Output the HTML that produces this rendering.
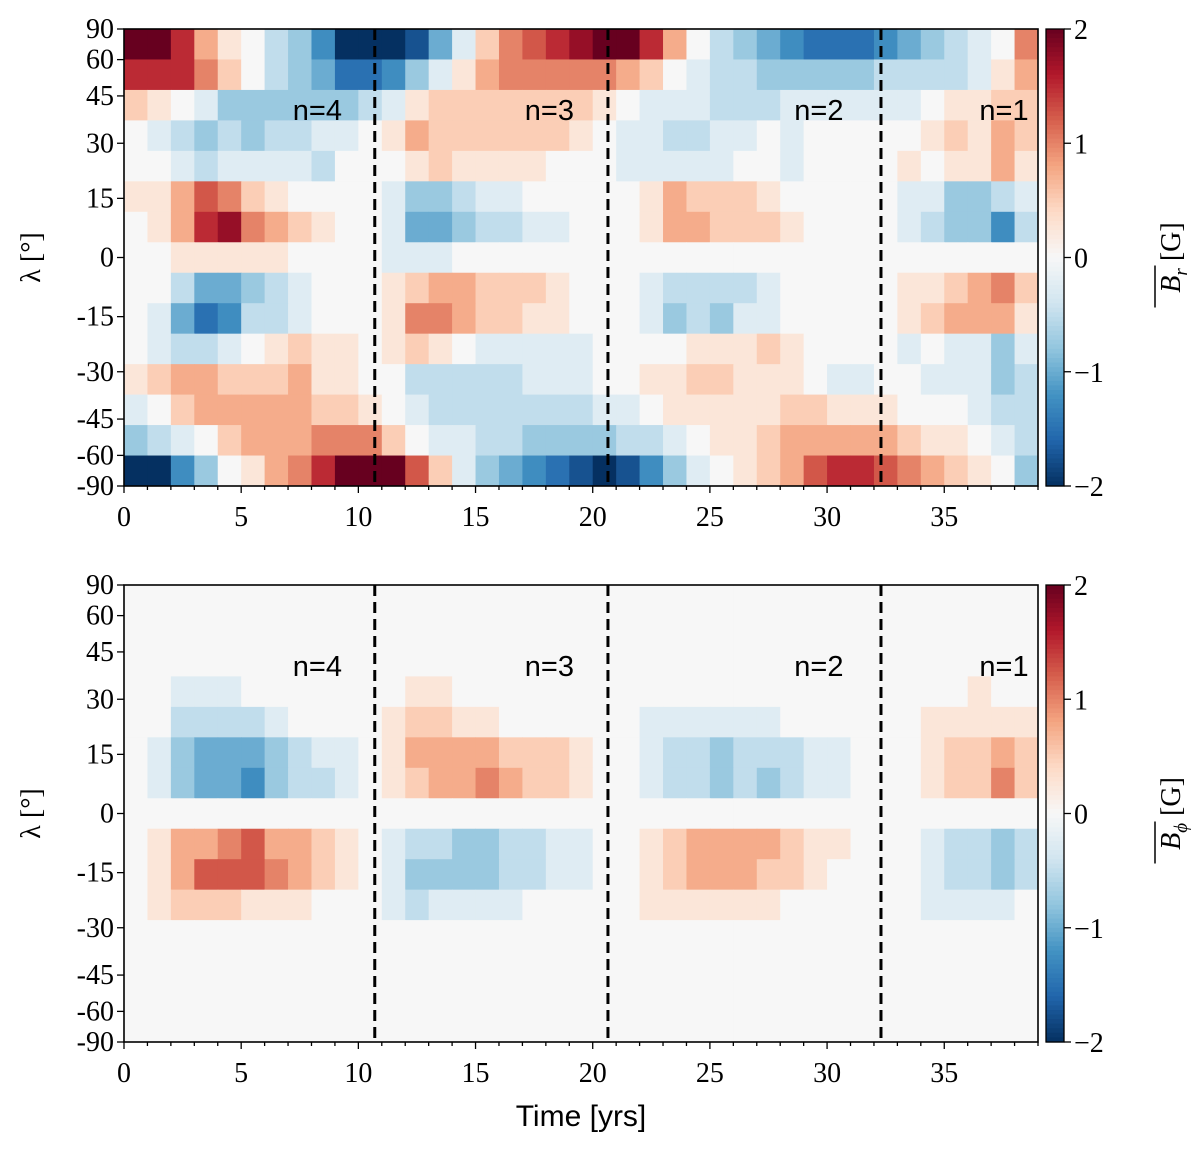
<!DOCTYPE html>
<html><head><meta charset="utf-8"><style>
body{margin:0;background:#fff}
svg text{font-family:"Liberation Serif",serif}
</style></head><body>
<svg id="fig" width="1200" height="1152" viewBox="0 0 1200 1152" xmlns="http://www.w3.org/2000/svg"></svg>
<script>
// ---- data ----
const years = [0,1,2,3,4,5,6,7,8,9,10,11,12,13,14,15,16,17,18,19,20,21,22,23,24,25,26,27,28,29,30,31,32,33,34,35,36,37,38];
const latTicks = [90,60,45,30,15,0,-15,-30,-45,-60,-90];
const xTicks = [0,5,10,15,20,25,30,35];
const cbTicks = [2,1,0,-1,-2];
const cycleBoundaries = [10.7,20.65,32.3];
const cycleLabels = ["n=4","n=3","n=2","n=1"];
const cycleLabelYears = [9.3,19.2,30.7,38.6];
// encoded rows (top = +90°), char -> value in units of 0.25 G
const KEY = "jihgfedcba0ABCDEFGHIJ";
const brRows = [
"IHFCA0bcehiigdaBDEFGHHFC0bcdefffedcba0D",
"FFFDB0bcdffecaACDDDDDCB0abbcccccbbbbaAC",
"BA0accccccbaABBBBBBBA0aaabbbaaaaaa0AABB",
"0abcbcbbaa0ACBBBBBBA0aabbaa0a00000ABACB",
"00abaaaab000ABAAAA000aaaaa00a0000A0AACA",
"AACEDBA0000accbaa00000ACBBBA00000aaccba",
"0ACFGDCBA00addcbbaa000ACCBBBA0000abcceb",
"00AAAAA0000aaa0000000000000000000000000",
"00bddcba000ABCCBBBA000abbbba00000AABCDB",
"0adfebba000ADDCBBAA000acbcaa00000ABCCCA",
"0abba0ABAA0ABA0aaaaa0000AAABA0000a0aaca",
"ABCCBBBCAA00bbbbbaaa00AABBAAA0aa00aaacb",
"a0BCCCCCBBA0abbbbbbbaa0AAAAABBAAA000abb",
"cba0BCCCDDDB0aabbccccbba0AABCCCCCBAA0ab",
"ihec0ACDFIIHEBacdefghgeca0ABCEFFEDCBA0c"];
const bpRows = [
"000000000000000000000000000000000000000",
"000000000000000000000000000000000000000",
"000000000000000000000000000000000000000",
"00aaa0000000AA0000000000000000000000A00",
"00bbbba0000ABBAA000000aaaaaa000000AAAAA",
"0acdddcbaa0ACCCCBBBA00abbcbbbaa000ABBCB",
"0acddecbba0ABCCDCBBA00abbcbcbaa000ABBDB",
"000000000000000000000000000000000000000",
"0ACCDECCBA0abbccbbaa00ABCCCCBAA000abbcb",
"0ACEEEDCBA0accccbbaa00ABCCCBBA0000abbcb",
"0ABBBAAA000abaaaa00000AAAAAA000000aaaa0",
"000000000000000000000000000000000000000",
"000000000000000000000000000000000000000",
"000000000000000000000000000000000000000",
"000000000000000000000000000000000000000"];

// ---- helpers ----
const NS="http://www.w3.org/2000/svg";
const svg=document.getElementById('fig');
function mk(tag,attrs,parent){const e=document.createElementNS(NS,tag);for(const k in attrs)e.setAttribute(k,attrs[k]);(parent||svg).appendChild(e);return e;}
const stops=[[-1,[5,48,97]],[-0.8,[33,102,172]],[-0.6,[67,147,195]],[-0.4,[146,197,222]],[-0.2,[209,229,240]],[0,[247,247,247]],[0.2,[253,219,199]],[0.4,[244,165,130]],[0.6,[214,96,77]],[0.8,[178,24,43]],[1,[103,0,31]]];
function cmap(v){v=Math.max(-1,Math.min(1,v));for(let i=0;i<stops.length-1;i++){const a=stops[i],b=stops[i+1];if(v<=b[0]){const t=(v-a[0])/(b[0]-a[0]);const c=a[1].map((x,j)=>Math.round(x+(b[1][j]-x)*t));return `rgb(${c[0]},${c[1]},${c[2]})`;}}return 'rgb(103,0,31)';}
const X0=124,X1=1038,XMAX=39;
const UNITS_PER_MAX=8;
function xs(t){return X0+(X1-X0)*t/XMAX;}

function panel(top,rows,name,sym){
  const bot=top+457;
  const ys=lat=>top+(bot-top)*(1-Math.sin(lat*Math.PI/180))/2;
  const g=mk('g',{});
  
  
  const nR=rows.length, rh=(bot-top)/nR;
  rows.forEach((r,i)=>{
    years.forEach((yr,j)=>{
      const v=KEY.indexOf(r[j])-10;
      const c=mk('rect',{x:xs(yr),y:top+i*rh,width:xs(yr+1)-xs(yr)+0.5,height:rh+0.5,fill:cmap(v/UNITS_PER_MAX)},g);
      
      
    });
  });
  cycleBoundaries.forEach(b=>{
    const l=mk('line',{x1:xs(b),x2:xs(b),y1:top,y2:bot,stroke:'#000','stroke-width':3,'stroke-dasharray':'11,6'},g);
    
    
  });
  cycleLabels.forEach((s,i)=>{
    const t=mk('text',{x:xs(cycleLabelYears[i]),y:top+91,'text-anchor':'end','font-size':29,style:'font-family:"Liberation Sans",sans-serif'},g);
    t.textContent=s;
    
    
  });
  const fr=mk('rect',{x:X0,y:top,width:X1-X0,height:bot-top,fill:'none',stroke:'#000','stroke-width':1.6},g);
  
  
  for(let t=0;t<=XMAX;t++){mk('line',{x1:xs(t),x2:xs(t),y1:bot,y2:bot+(t%5==0?7:4),stroke:'#000','stroke-width':1.3},g);}
  xTicks.forEach(t=>{const tx=mk('text',{x:xs(t),y:bot+40,'text-anchor':'middle','font-size':28},g);tx.textContent=t;
    
    });
  latTicks.forEach(l=>{mk('line',{x1:X0-7,x2:X0,y1:ys(l),y2:ys(l),stroke:'#000','stroke-width':1.3},g);
    const tx=mk('text',{x:X0-10,y:ys(l)+9,'text-anchor':'end','font-size':28},g);tx.textContent=l;
    
    });
  const yl=mk('text',{x:0,y:0,transform:`translate(40,${(top+bot)/2}) rotate(-90)`,'text-anchor':'middle','font-size':28},g);
  yl.textContent='λ [°]';
  
  
  // colorbar
  const cx=1046,cw=18;
  const cb=mk('g',{},g);
  
  
  const N=100;
  for(let i=0;i<N;i++){mk('rect',{x:cx,y:top+i*(bot-top)/N,width:cw,height:(bot-top)/N+0.6,fill:cmap(1-2*(i+0.5)/N)},cb);}
  mk('rect',{x:cx,y:top,width:cw,height:bot-top,fill:'none',stroke:'#000','stroke-width':1.3},cb);
  const cy=v=>top+(bot-top)*(2-v)/4;
  cbTicks.forEach(v=>{mk('line',{x1:cx+cw,x2:cx+cw+7,y1:cy(v),y2:cy(v),stroke:'#000','stroke-width':1.3},cb);
    const tx=mk('text',{x:cx+cw+10,y:cy(v)+10,'font-size':28},cb);tx.textContent=v<0?'−'+(-v):String(v);
    
    });
  const cl=mk('text',{x:0,y:0,transform:`translate(1180,${(top+bot)/2}) rotate(-90)`,'text-anchor':'middle','font-size':28},cb);
  cl.innerHTML=`<tspan font-style="italic">B</tspan><tspan font-style="italic" font-size="19" dy="7">${sym}</tspan><tspan dy="-7"> [G]</tspan>`;
  
  
  mk('line',{x1:1155,x2:1155,y1:(top+bot)/2+8,y2:(top+bot)/2+50,stroke:'#000','stroke-width':1.5},cb);
}
panel(29,brRows,'br','r');
panel(585,bpRows,'bphi','ϕ');
const xt=mk('text',{x:581,y:1126,'text-anchor':'middle','font-size':30,style:'font-family:"Liberation Sans",sans-serif'});
xt.textContent='Time [yrs]';


</script>
</body></html>
